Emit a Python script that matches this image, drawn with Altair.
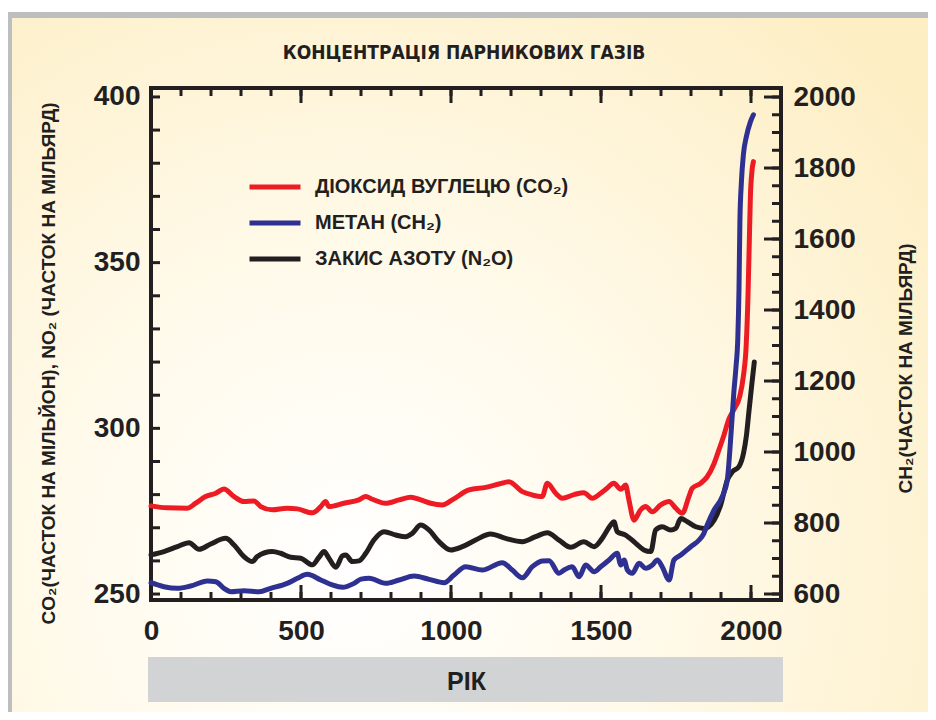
import altair as alt
import pandas as pd

W, H = 630, 512
INK = "#231F20"
FONT = "Liberation Sans, Arial, Helvetica, sans-serif"
NARROW = "Liberation Sans Narrow, DejaVu Sans Condensed, Arial Narrow, sans-serif"

# ---- data ----
co2_years = [0, 54, 121, 149, 182, 216, 243, 277, 310, 343, 366, 404, 454, 488, 538, 566, 582, 593, 643,
             693, 716, 738, 782, 827, 866, 899, 932, 971, 1004, 1060, 1116, 1160, 1193, 1238, 1271, 1304,
             1321, 1349, 1371, 1410, 1443, 1471, 1499, 1516, 1543, 1566, 1582, 1593, 1610, 1632, 1649,
             1671, 1699, 1727, 1749, 1771, 1793, 1804, 1832, 1854, 1877, 1893, 1910, 1925, 1945, 1962,
             1975, 1984, 1990, 1994, 1998, 2003, 2008]
co2_vals = [276.6, 276.0, 275.9, 277.4, 279.4, 280.4, 281.7, 279.4, 277.9, 278.1, 276.4, 275.4, 275.9,
            275.7, 274.5, 276.4, 277.9, 276.4, 277.4, 278.4, 279.4, 278.6, 277.4, 278.4, 279.2, 278.4,
            277.4, 276.9, 278.4, 281.4, 282.2, 283.2, 283.9, 280.9, 279.9, 279.4, 283.4, 280.4, 278.9,
            280.0, 280.6, 278.9, 280.4, 281.6, 283.4, 281.6, 282.9, 278.4, 272.3, 275.4, 276.4, 274.8,
            276.9, 277.9, 275.9, 274.4, 279.4, 281.9, 283.4, 285.4, 289.4, 293.5, 298.0, 302.5, 306.0,
            309.5, 316.0, 325.0, 340.0, 355.0, 370.0, 377.5, 380.5]

n2o_years = [0, 43, 88, 127, 160, 199, 249, 277, 310, 338, 354, 404, 432, 466, 499, 538, 560, 577, 593,
             616, 638, 649, 671, 693, 716, 743, 777, 816, 849, 871, 899, 927, 960, 999, 1038, 1082, 1132,
             1182, 1238, 1282, 1321, 1360, 1399, 1443, 1477, 1504, 1532, 1543, 1554, 1582, 1616, 1643,
             1666, 1682, 1704, 1732, 1749, 1766, 1788, 1816, 1843, 1877, 1899, 1921, 1938, 1960, 1975,
             1985, 1993, 2003, 2011]
n2o_vals = [261.8, 262.8, 264.3, 265.5, 263.5, 265.1, 266.8, 264.8, 261.3, 259.8, 261.3, 262.8, 262.3,
            261.1, 260.8, 258.8, 261.1, 262.8, 260.8, 258.1, 261.5, 261.8, 259.8, 260.0, 262.3, 266.3,
            268.8, 267.8, 267.3, 268.3, 270.8, 269.3, 265.8, 263.3, 264.3, 266.3, 268.1, 266.8, 265.8,
            267.3, 268.5, 266.3, 264.1, 265.8, 264.3, 266.8, 270.8, 271.8, 268.8, 267.8, 265.3, 263.3,
            262.8, 269.3, 270.3, 269.3, 269.8, 272.8, 271.8, 270.3, 269.8, 272.3, 276.9, 284.4, 286.9,
            288.5, 292.5, 298.0, 305.0, 313.5, 320.0]

ch4_years = [0, 43, 88, 132, 188, 216, 243, 266, 310, 360, 399, 454, 488, 521, 566, 604, 638, 677, 700,
             727, 782, 827, 877, 927, 977, 1010, 1049, 1104, 1171, 1204, 1238, 1271, 1304, 1327, 1360,
             1377, 1404, 1427, 1449, 1477, 1499, 1527, 1554, 1566, 1577, 1588, 1604, 1627, 1649, 1671,
             1688, 1704, 1727, 1743, 1766, 1799, 1827, 1843, 1854, 1877, 1904, 1921, 1930, 1943, 1950,
             1956, 1960, 1963, 1968, 1975, 1985, 1998, 2008]
ch4_vals = [631.8, 620.6, 616.0, 622.5, 636.6, 634.6, 616.0, 606.5, 609.3, 606.5, 616.0, 630.0, 644.2,
            655.4, 639.4, 625.4, 618.9, 630.0, 642.0, 644.2, 630.0, 639.4, 650.7, 641.3, 631.8, 653.5,
            676.9, 667.6, 688.2, 667.6, 645.9, 676.9, 693.0, 693.8, 658.2, 667.6, 676.9, 648.7, 681.7,
            662.9, 676.9, 695.8, 714.6, 681.7, 695.8, 667.6, 658.2, 686.4, 672.3, 681.7, 695.8, 676.9,
            639.4, 695.8, 709.9, 733.2, 752.1, 771.0, 794.4, 836.6, 874.1, 921.0, 1010, 1170, 1240,
            1320, 1460, 1650, 1760, 1840, 1890, 1930, 1950]

gas_names = ["ДІОКСИД ВУГЛЕЦЮ (CO₂)", "МЕТАН (CH₂)", "ЗАКИС АЗОТУ (N₂O)"]
gas_colors = ["#ED1C24", "#2E3192", INK]

x_labels = [0, 500, 1000, 1500, 2000]
left_labels = [250, 300, 350, 400]
right_labels = [600, 800, 1000, 1200, 1400, 1600, 1800, 2000]
x_minor_ticks = list(range(0, 2001, 100))
x_major_ticks = [0, 500, 1000, 1500, 2000]
left_ticks = list(range(250, 401, 10))
right_minor_ticks = list(range(600, 2001, 50))
right_major_ticks = list(range(600, 2001, 200))

title_text = "КОНЦЕНТРАЦІЯ ПАРНИКОВИХ ГАЗІВ"
left_title = "CO₂(ЧАСТОК НА МІЛЬЙОН), NO₂ (ЧАСТОК НА МІЛЬЯРД)"
right_title = "CH₂(ЧАСТОК НА МІЛЬЯРД)"
x_title = "РІК"

# ---- tables ----
left_df = pd.concat([
    pd.DataFrame({"year": co2_years, "value": co2_vals, "gas": gas_names[0]}),
    pd.DataFrame({"year": n2o_years, "value": n2o_vals, "gas": gas_names[2]}),
])
ch4_df = pd.DataFrame({"year": ch4_years, "value": ch4_vals, "gas": gas_names[1]})
one = pd.DataFrame({"a": [0]})

def tdf(vals):
    return pd.DataFrame({"v": vals})

# ---- scales & axes ----
xs = alt.Scale(domain=[0, 2100], nice=False, zero=False)
yl = alt.Scale(domain=[248.2, 402.7], nice=False, zero=False)
yr = alt.Scale(domain=[583.1, 2025.4], nice=False, zero=False)
cs = alt.Scale(domain=gas_names, range=gas_colors)

lab = dict(labelFont=FONT, labelFontSize=28, labelFontWeight="bold", labelColor=INK,
           ticks=False, domain=False, grid=False, format="d", zindex=1,
           labelOverlap=False, labelBound=False)
tit = dict(titleFont=FONT, titleFontWeight="bold", titleColor=INK)

x_axis = alt.Axis(values=x_labels, labelPadding=17, labelFlush=False, title=x_title,
                  titleFontSize=25, titleX=315, titleY=81, titleBaseline="middle",
                  titleAlign="center", **lab, **tit)
yl_axis = alt.Axis(values=left_labels, labelPadding=11, title=left_title, titleFontSize=19,
                   titleAngle=270, titleX=-103, titleY=275, titleBaseline="middle",
                   titleAlign="center", **lab, **tit)
yr_axis = alt.Axis(values=right_labels, orient="right", labelPadding=12, title=right_title,
                   titleFontSize=19, titleAngle=270, titleX=124, titleY=280,
                   titleBaseline="middle", titleAlign="center", **lab, **tit)

legend = alt.Legend(orient="none", legendX=96, legendY=81, title=None, symbolType="stroke",
                    symbolSize=2601, symbolStrokeWidth=5, labelFont=FONT, labelFontSize=20,
                    labelFontWeight="bold", labelColor=INK, labelOffset=12, labelLimit=0,
                    rowPadding=0, clipHeight=36, padding=0, zindex=1)

# ---- decorations ----
gradient = {"gradient": "radial",
            "stops": [{"offset": 0, "color": "#FFFFFF"},
                      {"offset": 0.4, "color": "#FFFAEB"},
                      {"offset": 1, "color": "#FDEEC4"}],
            "x1": 0.37, "y1": 0.72, "r1": 0, "x2": 0.37, "y2": 0.72, "r2": 0.8}
bg = alt.Chart(one).mark_rect(fill=gradient).encode(
    x=alt.value(-139), x2=alt.value(W + 147), y=alt.value(-70), y2=alt.value(H + 112))
left_strip = alt.Chart(one).mark_rect(fill="#BCBEC0").encode(
    x=alt.value(-143), x2=alt.value(-139), y=alt.value(-74), y2=alt.value(H + 112))
top_strip = alt.Chart(one).mark_rect(fill="#BCBEC0").encode(
    x=alt.value(-143), x2=alt.value(W + 147), y=alt.value(-76), y2=alt.value(-70))
year_bar = alt.Chart(one).mark_rect(fill="#D1D3D4").encode(
    x=alt.value(-3), x2=alt.value(W + 2), y=alt.value(H + 57), y2=alt.value(H + 102))
frame = alt.Chart(one).mark_rect(fillOpacity=0, stroke=INK, strokeWidth=4).encode(
    x=alt.value(0), x2=alt.value(W), y=alt.value(0), y2=alt.value(H))
title_mark = alt.Chart(one).mark_text(
    text=title_text, font=NARROW, fontSize=19, fontWeight="bold", color=INK,
    align="center", baseline="alphabetic").encode(x=alt.value(W / 2 - 2), y=alt.value(-29))

def xtick(vals, top, length):
    y0 = 0 if top else H
    y1 = length if top else H - length
    return alt.Chart(tdf(vals)).mark_rule(color=INK, strokeWidth=3).encode(
        x=alt.X("v:Q", scale=xs, axis=x_axis), y=alt.value(y0), y2=alt.value(y1))

ticks_x = [xtick(x_minor_ticks, False, 8), xtick(x_major_ticks, False, 15),
           xtick(x_minor_ticks, True, 8), xtick(x_major_ticks, True, 15)]

ticks_left = alt.Chart(tdf(left_ticks)).mark_rule(color=INK, strokeWidth=3).encode(
    y=alt.Y("v:Q", scale=yl, axis=yl_axis), x=alt.value(0), x2=alt.value(9))

def rtick(vals, length):
    return alt.Chart(tdf(vals)).mark_rule(color=INK, strokeWidth=3).encode(
        y=alt.Y("v:Q", scale=yr, axis=yr_axis), x=alt.value(W), x2=alt.value(W - length))

line_kw = dict(strokeWidth=5, interpolate="monotone", strokeCap="round", strokeJoin="round")

left_lines = alt.Chart(left_df).mark_line(**line_kw).encode(
    x=alt.X("year:Q", scale=xs, axis=x_axis),
    y=alt.Y("value:Q", scale=yl, axis=yl_axis),
    color=alt.Color("gas:N", scale=cs, legend=legend),
    detail="gas:N",
)
right_lines = alt.Chart(ch4_df).mark_line(**line_kw).encode(
    x=alt.X("year:Q", scale=xs, axis=x_axis),
    y=alt.Y("value:Q", scale=yr, axis=yr_axis),
    color=alt.Color("gas:N", scale=cs, legend=legend),
)

left_group = alt.layer(bg, left_strip, top_strip, year_bar, title_mark, frame, *ticks_x,
                       ticks_left, left_lines)
right_group = alt.layer(rtick(right_minor_ticks, 9), rtick(right_major_ticks, 17), right_lines)

chart = alt.layer(left_group, right_group).resolve_scale(y="independent").properties(
    width=W, height=H,
    autosize=alt.AutoSizeParams(type="none"),
    padding={"left": 143, "top": 80, "right": 147, "bottom": 112},
    background="white",
).configure_view(stroke=None)

chart.save("out.html", embed_options={"renderer": "svg", "actions": False})
